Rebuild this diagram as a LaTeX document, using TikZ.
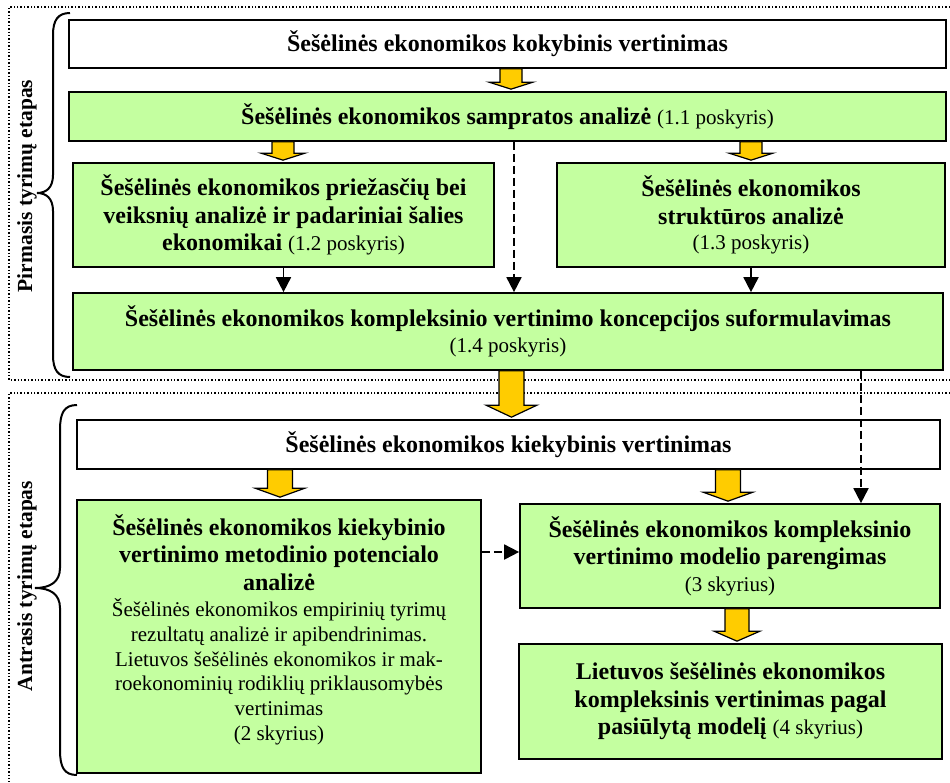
\documentclass[tikz,border=0pt]{standalone}
\usepackage{fontspec}
\setmainfont{Liberation Serif}
\usetikzlibrary{arrows.meta,calc}

\definecolor{boxgreen}{RGB}{196,255,160}
\definecolor{arrowgold}{RGB}{255,204,0}

% regular (non-bold) smaller text inside the bold boxes
\newcommand\nt{\fontsize{21}{24.5}\selectfont\mdseries}

% wide yellow block arrow from the bottom of one box to the top of another
% #1 upper node, #2 lower node, #3 x position, #4 half shaft width,
% #5 half head width, #6 head length
\newcommand\blockarrow[6]{%
  \path[goldarrow] let \p1=(#1.south), \p2=(#2.north) in
    ({#3pt-#4pt},\y1) -- ({#3pt-#4pt},{\y2+#6pt+2pt}) -- ({#3pt-#5pt},{\y2+#6pt+2pt})
    -- (#3pt,{\y2+2pt}) -- ({#3pt+#5pt},{\y2+#6pt+2pt}) -- ({#3pt+#4pt},{\y2+#6pt+2pt})
    -- ({#3pt+#4pt},\y1) -- cycle;}

\tikzset{
  box/.style={draw=black, line width=1.7pt, fill=boxgreen, align=center,
    inner sep=0pt, font=\fontsize{24}{27.5}\selectfont\bfseries},
  plainbox/.style={box, fill=white},
  dasharrow/.style={line width=1.8pt, dash pattern=on 8pt off 4pt,
    -{Triangle[width=15pt,length=15pt]}},
  solidarrow/.style={line width=1.8pt, -{Triangle[width=15pt,length=15pt]}},
  goldarrow/.style={draw=black, line width=1.2pt, fill=arrowgold, line join=miter},
  stageframe/.style={dotted, line width=1.4pt},
  bracepath/.style={line width=2pt},
  stage/.style={rotate=90, font=\fontsize{21.5}{24}\selectfont\bfseries}
}

\begin{document}
\begin{tikzpicture}[x=1pt, y=-1pt]
\useasboundingbox (0,0) rectangle (950,782);

% dotted frames of the two research stages
\draw[stageframe] (950,7) -- (9,7) -- (9,380) -- (950,380);
\draw[stageframe] (950,393) -- (9,393) -- (9,782);

% braces and stage titles
\draw[bracepath] (70,13) .. controls (58,13) and (53,20) .. (53,35) -- (53,175)
  .. controls (53,188) and (46,193) .. (37,193)
  .. controls (46,193) and (53,198) .. (53,211) -- (53,355)
  .. controls (53,370) and (58,377) .. (70,377);
\draw[bracepath] (77,405) .. controls (64,405) and (60,413) .. (60,430) -- (60,568)
  .. controls (60,582) and (50,588) .. (35,588)
  .. controls (50,588) and (60,594) .. (60,608) -- (60,750)
  .. controls (60,767) and (64,775) .. (77,775);
\node[stage] (s1) at (27,186) {Pirmasis tyrimų etapas};
\node[stage] (s2) at (27,586) {Antrasis tyrimų etapas};

% first stage
\node[plainbox, minimum width=877pt, minimum height=48pt] (b1) at (507.5,44)
  {Šešėlinės ekonomikos kokybinis vertinimas};
\node[box, minimum width=877pt, minimum height=49pt] (b2) at (507.5,116.5)
  {Šešėlinės ekonomikos sampratos analizė {\nt (1.1 poskyris)}};
\node[box, minimum width=421pt, minimum height=104pt] (b3) at (283.5,215)
  {Šešėlinės ekonomikos priežasčių bei\\
   veiksnių analizė ir padariniai šalies\\
   ekonomikai {\nt (1.2 poskyris)}};
\node[box, minimum width=388pt, minimum height=104pt] (b4) at (751,215)
  {Šešėlinės ekonomikos\\
   struktūros analizė\\[-2pt]
   {\nt (1.3 poskyris)}};
\node[box, minimum width=870pt, minimum height=77pt] (b5) at (508,331.5)
  {Šešėlinės ekonomikos kompleksinio vertinimo koncepcijos suformulavimas\\[-2pt]
   {\nt (1.4 poskyris)}};

% second stage
\node[plainbox, minimum width=863pt, minimum height=49pt] (b6) at (508.5,444.5)
  {Šešėlinės ekonomikos kiekybinis vertinimas};
\node[box, minimum width=404pt, minimum height=273pt] (b7) at (279,636.5)
  {Šešėlinės ekonomikos kiekybinio\\
   vertinimo metodinio potencialo\\
   analizė\\[-1.5pt]
   {\nt Šešėlinės ekonomikos empirinių tyrimų}\\[-2.7pt]
   {\nt rezultatų analizė ir apibendrinimas.}\\[-2.7pt]
   {\nt Lietuvos šešėlinės ekonomikos ir mak-}\\[-2.7pt]
   {\nt roekonominių rodiklių priklausomybės}\\[-2.7pt]
   {\nt vertinimas}\\[-2.7pt]
   {\nt (2 skyrius)\rule[-18pt]{0pt}{0pt}}};
\node[box, minimum width=420pt, minimum height=104pt] (b8) at (730,556)
  {Šešėlinės ekonomikos kompleksinio\\
   vertinimo modelio parengimas\\[-1pt]
   {\nt (3 skyrius)}};
\node[box, minimum width=423pt, minimum height=115pt] (b9) at (730.5,701.5)
  {Lietuvos šešėlinės ekonomikos\\
   kompleksinis vertinimas pagal\\
   pasiūlytą modelį {\nt (4 skyrius)}};

% yellow block arrows
\blockarrow{b1}{b2}{511}{11}{22}{7}
\blockarrow{b2}{b3}{283}{11}{22}{7}
\blockarrow{b2}{b4}{751}{11}{22}{7}
\blockarrow{b5}{b6}{511.5}{12.5}{25.5}{12}
\blockarrow{b6}{b7}{280}{12.5}{25}{9}
\blockarrow{b6}{b8}{728}{12.5}{25}{9}
\blockarrow{b8}{b9}{737}{12}{23}{10}

% black connectors
\coordinate (xa) at (514,0);
\coordinate (xb) at (861,0);
\coordinate (yc) at (0,552);
\draw[dasharrow] (b2.south -| xa) -- (b5.north -| xa);
\draw[solidarrow] (b3.south) -- (b5.north -| b3.south);
\draw[solidarrow] (b4.south) -- (b5.north -| b4.south);
\draw[dasharrow] (b5.south -| xb) -- (b8.north -| xb);
\draw[dasharrow] (b7.east |- yc) -- (b8.west |- yc);
\end{tikzpicture}
\end{document}
